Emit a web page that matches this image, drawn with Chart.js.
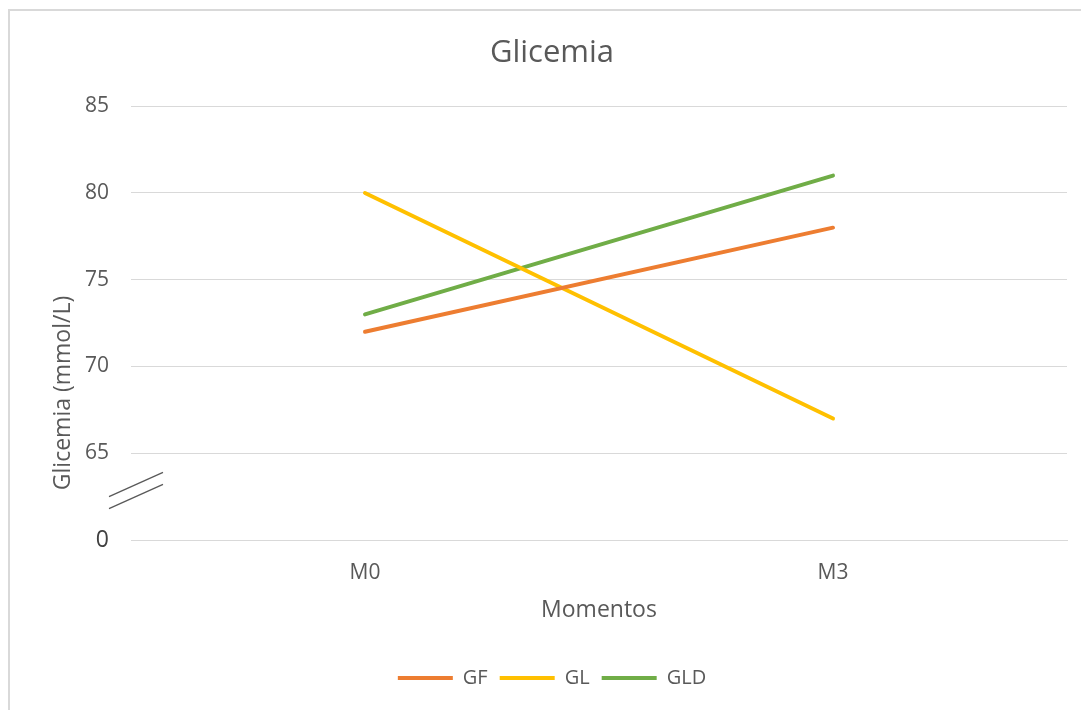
<!DOCTYPE html>
<html>
<head>
<meta charset="utf-8">
<script src="https://cdn.jsdelivr.net/npm/chart.js@4"></script>
<style>
  html, body { margin: 0; padding: 0; background: #fff; overflow: hidden; }
  #box {
    position: absolute; left: 8px; top: 9px;
    width: 1084px; height: 701px;
    border-left: 2px solid #d9d9d9; border-top: 2px solid #d9d9d9;
  }
</style>
</head>
<body>
<div id="box"><canvas id="glic"></canvas></div>
<script>
// data
const momentos = ["M0", "M3"];
const gf = [72, 78];
const gl = [80, 67];
const gld = [73, 81];
const yTicks = [60, 65, 70, 75, 80, 85];

const grey = "#595959";
const fontName = "'Open Sans', sans-serif";

// y axis title sits a bit low in the original, so draw it by hand
const yTitle = {
  id: "yTitle",
  afterDraw(chart) {
    const c = chart.ctx;
    c.save();
    c.translate(53, 382);
    c.rotate(-Math.PI / 2);
    c.font = "23px " + fontName;
    c.fillStyle = grey;
    c.textAlign = "center";
    c.textBaseline = "middle";
    c.fillText("Glicemia (mmol/L)", 0, 0);
    c.restore();
  }
};

// the little axis break marks between 0 and 65
const breakMarks = {
  id: "breakMarks",
  afterDraw(chart) {
    const c = chart.ctx;
    const y = chart.scales.y;
    const left = chart.chartArea.left;
    c.save();
    c.strokeStyle = grey;
    c.lineWidth = 1.3;
    [0, 12].forEach(function (off) {
      c.beginPath();
      c.moveTo(left - 22, y.getPixelForValue(62.5) + off);
      c.lineTo(left + 32, y.getPixelForValue(63.9) + off);
      c.stroke();
    });
    c.restore();
  }
};

function line(label, data, color) {
  return {
    label: label,
    data: data,
    borderColor: color,
    backgroundColor: color,
    borderWidth: 4,
    borderCapStyle: "round",
    pointRadius: 0,
    pointHoverRadius: 0,
    tension: 0,
    fill: false
  };
}

new Chart(document.getElementById("glic"), {
  type: "line",
  data: {
    labels: momentos,
    datasets: [
      line("GF", gf, "#ED7D31"),
      line("GL", gl, "#FFC000"),
      line("GLD", gld, "#70AD47")
    ]
  },
  options: {
    responsive: true,
    maintainAspectRatio: false,
    animation: false,
    layout: { padding: { left: 27, right: 27, top: 0, bottom: 14 } },
    plugins: {
      title: {
        display: true,
        text: "Glicemia",
        color: grey,
        font: { family: fontName, size: 31, weight: "normal" },
        padding: { top: 24, bottom: 34 }
      },
      legend: {
        position: "bottom",
        labels: {
          usePointStyle: true,
          pointStyle: "line",
          pointStyleWidth: 55,
          color: grey,
          padding: 12,
          font: { family: fontName, size: 20 }
        }
      },
      tooltip: { enabled: false }
    },
    scales: {
      x: {
        offset: true,
        grid: { display: false, drawTicks: false },
        border: { color: "#d9d9d9" },
        ticks: { color: grey, padding: 20, font: { family: fontName, size: 21 } },
        title: {
          display: true,
          text: "Momentos",
          color: grey,
          font: { family: fontName, size: 23 },
          padding: { top: 12, bottom: 32 }
        },
        afterFit: function (s) { s.height = 116; }
      },
      y: {
        min: 60,
        max: 85,
        afterBuildTicks: function (s) { s.ticks = yTicks.map(v => ({ value: v })); },
        grid: { color: "#d9d9d9", drawTicks: false },
        border: { display: false },
        ticks: {
          padding: 22,
          color: ctx => ctx.tick.value === 60 ? "#404040" : grey,
          font: ctx => ({ family: fontName, size: ctx.tick && ctx.tick.value === 60 ? 23 : 21 }),
          callback: v => v === 60 ? "0" : v
        },
        afterFit: function (s) { s.width = 94; }
      }
    }
  },
  plugins: [yTitle, breakMarks]
});
</script>
</body>
</html>
